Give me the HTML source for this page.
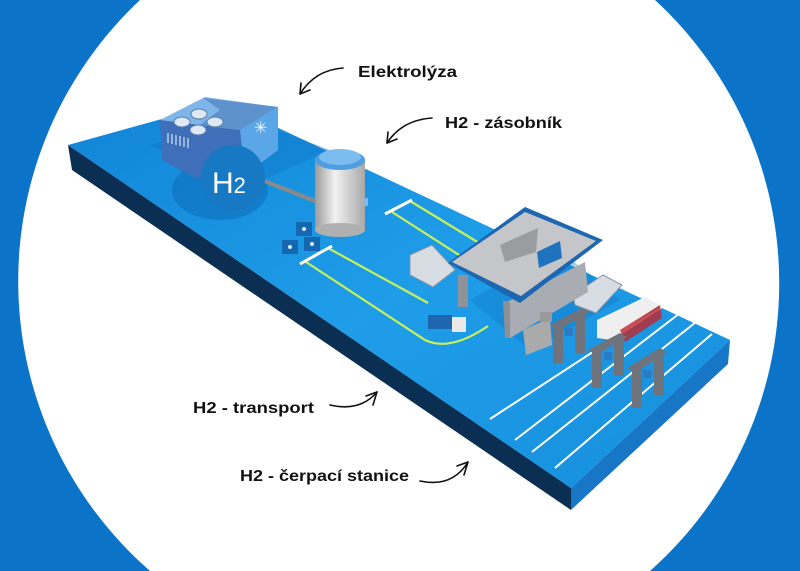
<!DOCTYPE html>
<html><head><meta charset="utf-8"><style>
html,body{margin:0;padding:0;width:800px;height:571px;overflow:hidden;background:#0b74c8}
svg{display:block;position:absolute;left:0;top:0;overflow:hidden}
.t{font-family:"Liberation Sans",sans-serif;font-weight:bold;fill:#111;font-size:16px}
</style></head><body>
<svg width="800" height="571" viewBox="0 0 800 571" xmlns="http://www.w3.org/2000/svg">
<defs>
<clipPath id="c"><rect width="800" height="571"/></clipPath>
<linearGradient id="top" x1="0" y1="0" x2="1" y2="1">
<stop offset="0" stop-color="#1184d6"/><stop offset="0.5" stop-color="#1f9de8"/><stop offset="1" stop-color="#168fdd"/>
</linearGradient>
<linearGradient id="tank" x1="0" x2="1"><stop offset="0" stop-color="#9a9a9a"/><stop offset="0.4" stop-color="#f2f2f2"/><stop offset="1" stop-color="#a8a8a8"/></linearGradient>
</defs>
<g clip-path="url(#c)">
<rect width="800" height="571" fill="#0b74c8"/>
<path d="M140,0 L655,0 A385,385 0 0 1 650,571 L150,571 A385,385 0 0 1 140,0 Z" fill="#fff"/>
<!-- platform -->
<polygon points="68,145 571,488 571,510 72,170" fill="#0a2f52"/>
<polygon points="571,488 730,340 728,364 571,510" fill="#1776c6"/>
<polygon points="68,145 223,102 730,340 571,488" fill="url(#top)"/>
<ellipse cx="220" cy="190" rx="48" ry="30" fill="#0d6fbd" opacity="0.6"/>
<polygon points="150,145 250,120 330,150 240,190" fill="#0e74c3" opacity="0.4"/>
<polygon points="470,300 560,250 620,300 530,350" fill="#0f74c0" opacity="0.35"/>
<g fill="none" stroke="#c8f05a" stroke-width="2.2">
<path d="M392,212 L470,262"/>
<path d="M410,201 L484,246"/>
<path d="M306,262 L425,340 Q450,352 488,326"/>
<path d="M328,248 L428,303"/>
</g>
<g stroke="#fff" stroke-width="3"><line x1="385" y1="214" x2="412" y2="200"/><line x1="300" y1="264" x2="332" y2="246"/></g>
<g stroke="#fff" stroke-width="2">
<line x1="490" y1="419" x2="668" y2="303"/>
<line x1="515" y1="440" x2="680" y2="313"/>
<line x1="532" y1="452" x2="696" y2="322"/>
<line x1="555" y1="468" x2="712" y2="334"/>
</g>
<polygon points="160,120 240,130 245,175 195,178 162,160" fill="#3f6fb8"/>
<polygon points="240,130 278,107 278,150 245,175" fill="#5aa6e6"/>
<polygon points="160,120 205,97 278,107 240,130" fill="#7fb6ea"/>
<polygon points="203,98 278,107 240,130 200,125 220,110" fill="#5d92cc"/>
<g fill="#dfe9f3" stroke="#5c7faa" stroke-width="1">
<ellipse cx="182" cy="122" rx="8" ry="5"/><ellipse cx="199" cy="114" rx="8" ry="5"/><ellipse cx="198" cy="130" rx="8" ry="5"/><ellipse cx="215" cy="122" rx="8" ry="5"/></g>
<g stroke="#cfe3f5" stroke-width="1.2"><line x1="168" y1="133" x2="168" y2="143"/><line x1="172" y1="134" x2="172" y2="144"/><line x1="176" y1="135" x2="176" y2="145"/><line x1="180" y1="136" x2="180" y2="146"/><line x1="184" y1="137" x2="184" y2="147"/><line x1="188" y1="138" x2="188" y2="148"/></g>
<text x="254" y="133" font-family="DejaVu Sans" font-size="16" fill="#eef6ff">✳</text>
<line x1="262" y1="180" x2="320" y2="203" stroke="#8a8a8a" stroke-width="4"/>
<ellipse cx="233" cy="178" rx="32" ry="33" fill="#1778c4"/>
<text x="212" y="193" font-family="Liberation Sans,sans-serif" font-size="30" fill="#fff">H<tspan font-size="22">2</tspan></text>
<rect x="315" y="160" width="50" height="70" fill="url(#tank)"/>
<ellipse cx="340" cy="230" rx="25" ry="7" fill="#b0b0b0"/>
<ellipse cx="340" cy="160" rx="25" ry="10" fill="#4f9ee0"/>
<ellipse cx="340" cy="157" rx="21" ry="8" fill="#7cbdf0"/>
<rect x="364" y="198" width="4" height="8" fill="#8ab7e0"/>
<g fill="#1467b0"><rect x="296" y="222" width="16" height="14"/><rect x="282" y="240" width="16" height="14"/><rect x="304" y="237" width="16" height="14"/></g>
<g fill="#d6ecff"><circle cx="304" cy="229" r="2"/><circle cx="290" cy="247" r="2"/><circle cx="312" cy="244" r="2"/></g>
<polygon points="410,255 432,245 455,270 433,287 410,275" fill="#d8dde4" stroke="#8895a5" stroke-width="1"/>
<polygon points="573,295 603,275 622,285 596,313 575,305" fill="#d8dde4" stroke="#8895a5" stroke-width="1"/>
<polygon points="505,303 585,262 588,292 510,338" fill="#a9acb3"/>
<polygon points="503,300 505,338 510,338 510,303" fill="#8d9096"/>
<rect x="458" y="275" width="10" height="32" fill="#8f9299"/>
<polygon points="448,263 525,207 603,240 520,303" fill="#1d67b0"/>
<polygon points="452,262 525,212 596,241 521,296" fill="#c4c6ca"/>
<polygon points="500,245 538,228 536,252 505,262" fill="#9a9ca0"/>
<polygon points="537,252 560,241 562,258 539,268" fill="#1f72bd"/>
<rect x="428" y="315" width="24" height="14" fill="#1e66ad"/>
<rect x="452" y="317" width="14" height="15" fill="#e9e9e9"/>
<polygon points="523,330 550,318 552,345 526,355" fill="#aaa"/>
<rect x="540" y="312" width="12" height="10" fill="#999"/>
<polygon points="597,320 645,297 660,305 612,340 597,338" fill="#efefef"/>
<polygon points="620,330 660,305 662,318 625,342" fill="#c0262c" opacity="0.8"/>
<g fill="#6f747c">
<rect x="553" y="325" width="10" height="38"/><rect x="575" y="315" width="10" height="38"/><polygon points="550,325 582,308 590,312 558,330"/>
<rect x="592" y="350" width="10" height="38"/><rect x="614" y="338" width="10" height="38"/><polygon points="588,350 620,333 627,337 596,355"/>
<rect x="632" y="368" width="10" height="40"/><rect x="654" y="355" width="10" height="40"/><polygon points="627,368 660,348 667,352 635,373"/>
</g>
<g fill="#2a7ac5"><rect x="565" y="328" width="8" height="8"/><rect x="604" y="352" width="8" height="8"/><rect x="643" y="370" width="8" height="8"/></g>
<text class="t" x="358" y="77" textLength="99" lengthAdjust="spacingAndGlyphs">Elektrolýza</text>
<text class="t" x="445" y="128" textLength="117" lengthAdjust="spacingAndGlyphs">H2 - zásobník</text>
<text class="t" x="193" y="413" textLength="121" lengthAdjust="spacingAndGlyphs">H2 - transport</text>
<text class="t" x="240" y="481" textLength="169" lengthAdjust="spacingAndGlyphs">H2 - čerpací stanice</text>
<g fill="none" stroke="#111" stroke-width="1.6" stroke-linecap="round">
<path d="M343,68 Q315,70 300,94"/><path d="M300,94 L301,83 M300,94 L310,90"/>
<path d="M432,118 Q402,120 387,143"/><path d="M387,143 L388,132 M387,143 L397,139"/>
<path d="M330,405 Q360,412 377,392"/><path d="M377,392 L366,396 M377,392 L373,405"/>
<path d="M420,481 Q452,488 468,462"/><path d="M468,462 L457,466 M468,462 L464,475"/>
</g>
</g>
</svg>
</body></html>
